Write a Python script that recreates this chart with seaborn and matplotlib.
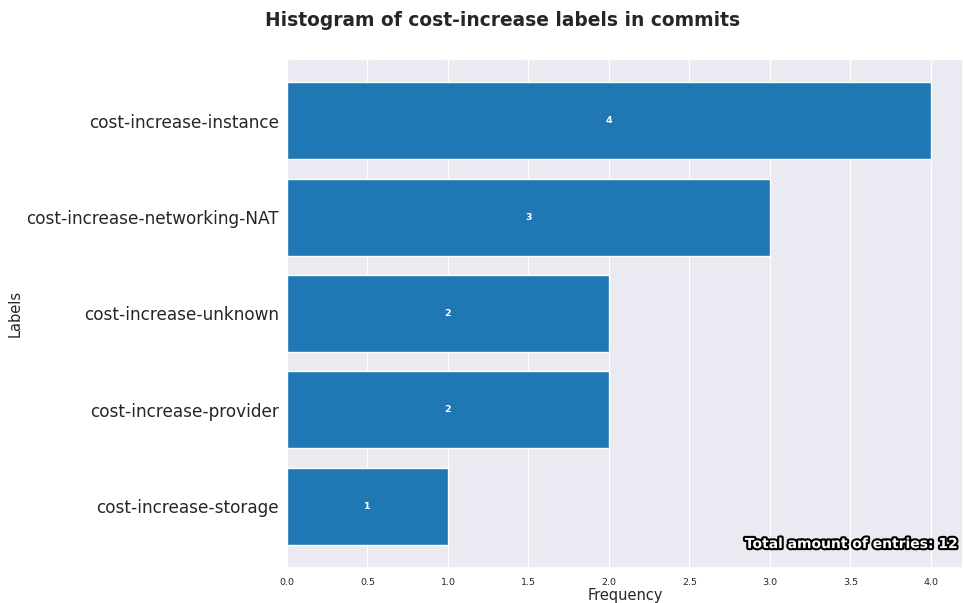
import matplotlib
matplotlib.use("Agg")
import matplotlib.pyplot as plt
import matplotlib.patheffects as pe
import seaborn as sns
import pandas as pd

labels = ["cost-increase-instance", "cost-increase-networking-NAT", "cost-increase-unknown",
          "cost-increase-provider", "cost-increase-storage"]
counts = [4, 3, 2, 2, 1]
total = 12

sns.set_theme(style="darkgrid", rc={"grid.linewidth": 0.8})
df = pd.DataFrame({"Labels": labels, "Frequency": counts})

fig = plt.figure(figsize=(9.63, 6.03), dpi=100)
ax = fig.add_axes([287/963, 1 - 568/603, 1 - 287/963, (568 - 59)/603])
sns.barplot(data=df, x="Frequency", y="Labels", color="#1f77b4", saturation=1,
            width=0.8, orient="h", ax=ax)
ax.set_ylim(4.64, -0.64)
ax.set_xlim(0, 4.2)
ax.set_xticks([0, 0.5, 1.0, 1.5, 2.0, 2.5, 3.0, 3.5, 4.0])
ax.tick_params(axis="x", labelsize=6.8, pad=1)
ax.tick_params(axis="y", labelsize=12.2, pad=0)
ax.set_xlabel("Frequency", fontsize=10.5, labelpad=1)
ax.set_ylabel("Labels", fontsize=10.5)
ax.yaxis.set_label_coords(-(287 - 23)/676, 0.5)

for i, v in enumerate(counts):
    ax.text(v / 2, i, str(v), color="white", fontsize=6.8, fontweight="bold",
            ha="center", va="center")

fig.text(503/963, 1 - 21/603, "Histogram of cost-increase labels in commits",
         fontsize=13.4, fontweight="bold", ha="center", va="center", color="#262626")

ax.text(0.993, 0.047, f"Total amount of entries: {total}", transform=ax.transAxes,
        ha="right", va="center", fontsize=10, fontweight="bold", color="white",
        path_effects=[pe.withStroke(linewidth=3, foreground="black")])

fig.savefig("out.png", dpi=100)
